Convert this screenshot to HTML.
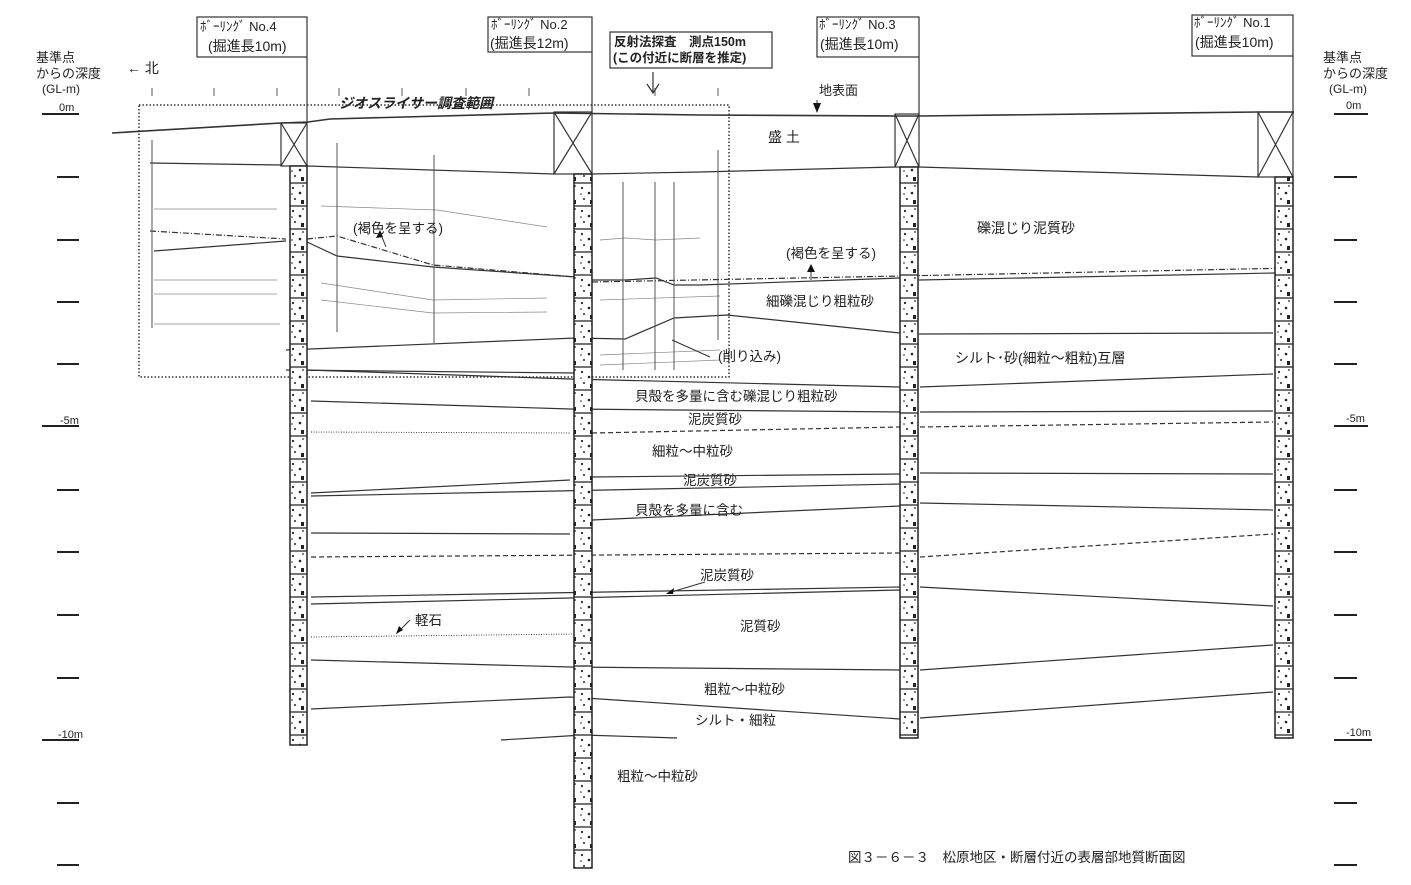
<!DOCTYPE html>
<html><head><meta charset="utf-8"><style>
html,body{margin:0;padding:0;background:#fff;}
svg{display:block;}
text{font-family:"Liberation Sans","Noto Sans CJK JP",sans-serif;fill:#222;}
</style></head><body>
<svg width="1411" height="885" viewBox="0 0 1411 885" xmlns="http://www.w3.org/2000/svg">
<defs>
<pattern id="grain" width="17" height="23" patternUnits="userSpaceOnUse">
<rect width="17" height="23" fill="#fff"/>
<circle cx="4" cy="4" r="1.1" fill="#222"/><circle cx="11" cy="9" r="1.3" fill="#222"/>
<circle cx="6" cy="15" r="1" fill="#222"/><rect x="12" y="16" width="3" height="4" fill="#222"/>
<circle cx="14" cy="2" r="0.9" fill="#222"/><circle cx="3" cy="10" r="0.8" fill="#222"/>
<line x1="0" y1="22" x2="17" y2="22" stroke="#222" stroke-width="1.2"/>
</pattern>
</defs>
<g stroke="#333" fill="none" stroke-width="1.2">
<rect x="139" y="105" width="590" height="272" stroke-dasharray="1.5,2" stroke-width="1.5"/>
<path d="M152,88v8M214,88v8M277,88v8M339,88v8M402,88v8M466,88v8M529,88v8M592,88v8M655,88v8M718,88v8" stroke-width="0.8"/>
<polyline points="112,133 281,123 308,122 330,119 554,113 700,115 895,116 920,116 1258,112 1294,112" stroke-width="1.6"/>
<path d="M307,57V123M592,52V112M919,57V114M1293,56V112"/>
<rect x="197" y="17" width="110" height="40"/><rect x="488" y="17" width="104" height="35"/>
<rect x="817" y="17" width="102" height="40"/><rect x="1192" y="15" width="101" height="41"/>
<rect x="610" y="32" width="162" height="36"/>
<path d="M653,72V93M647,84l6,9l6,-9"/>
<rect x="281" y="123" width="26" height="43"/><path d="M281,123L307,166M307,123L281,166"/>
<rect x="554" y="112" width="38" height="62"/><path d="M554,112L592,174M592,112L554,174"/>
<rect x="895" y="114" width="24" height="53"/><path d="M895,114L919,167M919,114L895,167"/>
<rect x="1258" y="112" width="35" height="65"/><path d="M1258,112L1293,177M1293,112L1258,177"/>
<polyline points="150,163 281,165"/><polyline points="307,166 554,174"/><polyline points="592,174 700,172 895,167"/><polyline points="919,167 1258,177"/>
<polyline points="154,251 286,241"/><polyline points="307,242 337,256 433,267 576,277"/><polyline points="592,280 625,280 656,278 674,285 700,285 900,278"/><polyline points="919,280 1275,273"/>
<polyline points="150,231 286,239" stroke-dasharray="6,2,1,2"/><polyline points="307,239 337,236 433,265 576,277" stroke-dasharray="6,2,1,2"/><polyline points="592,282 900,276 1293,268" stroke-dasharray="6,2,1,2"/>
<polyline points="286,350 576,338 625,339 674,318 727,315 900,333"/><polyline points="919,334 1273,333"/>
<polyline points="286,370 576,373"/>
<polyline points="307,370 570,379 900,387"/><polyline points="920,387 1273,374"/>
<polyline points="311,401 570,409 900,412"/><polyline points="920,412 1273,411"/>
<polyline points="311,432 570,433" stroke-dasharray="1,1.5" stroke-width="0.9"/>
<polyline points="592,433 900,427" stroke-dasharray="5,3"/><polyline points="920,427 1273,422" stroke-dasharray="5,3"/>
<polyline points="311,493 570,480"/><polyline points="592,477 900,474"/><polyline points="920,473 1273,474"/>
<polyline points="311,496 900,484"/><polyline points="592,520 900,506"/><polyline points="920,503 1273,510"/>
<polyline points="311,533 570,534"/>
<polyline points="311,557 900,553" stroke-dasharray="5,3"/><polyline points="920,557 1273,534" stroke-dasharray="5,3"/>
<polyline points="311,597 900,587"/><polyline points="920,587 1273,606"/>
<polyline points="311,604 570,598 900,590"/>
<polyline points="311,637 575,634" stroke-dasharray="1,1.5" stroke-width="0.9"/>
<polyline points="311,660 570,667 900,670"/><polyline points="920,670 1273,645"/>
<polyline points="311,709 570,697 900,719"/><polyline points="920,718 1273,692"/>
<polyline points="501,740 583,735 677,738"/>
<g stroke="#888" stroke-width="0.7">
<path d="M154,209H277M321,206L437,210L547,227M154,280H277M154,294H277M321,283L433,300L547,298M321,300L433,313L547,312M154,324H280"/>
<path d="M600,240L625,238L656,240L700,238M600,300L720,296M600,355L720,350M600,365L720,360"/>
<path d="M152,140V328M337,143V332M434,155V343M623,182V370M655,182V370M674,182V370M718,150V340" stroke="#555" stroke-width="1"/>
</g>
<path d="M386,247L380,232M811,280V266M668,593L705,582M397,633L410,620M672,340L710,357" stroke-width="1"/>
</g>
<g fill="#111">
<path d="M380,230l-4,8l7,-1z"/><path d="M811,264l-4,8h8z"/><path d="M666,594l8,-6l-1,6z"/><path d="M396,634l3,-8l4,4z"/>
<path d="M817,113l-4,-10h8z"/>
</g>
<path d="M817,100V105" stroke="#333"/>
<g stroke="#222" stroke-width="1.5" fill="url(#grain)">
<rect x="290" y="166" width="17" height="579"/>
<rect x="574" y="174" width="18" height="694"/>
<rect x="900" y="167" width="18" height="571"/>
<rect x="1275" y="177" width="18" height="561"/>
</g>
<g stroke="#222" stroke-width="2">
<path d="M42,114H79M57,177H79M57,240H79M57,302H79M57,364H79M42,426H79M57,490H79M57,552H79M57,615H79M57,678H79M42,740H79M57,803H79M57,865H79"/>
<path d="M1334,114H1368M1334,177H1357M1334,240H1357M1334,302H1357M1334,364H1357M1334,426H1368M1334,490H1357M1334,552H1357M1334,615H1357M1334,678H1357M1334,740H1372M1334,803H1357M1334,865H1357"/>
</g>
<g font-size="11">
<text x="59" y="111">0m</text><text x="60" y="424">-5m</text><text x="58" y="738">-10m</text>
<text x="1346" y="109">0m</text><text x="1346" y="422">-5m</text><text x="1346" y="736">-10m</text>
</g>
<g font-size="12">
<text x="36" y="62" font-size="13">基準点</text><text x="36" y="78" font-size="13">からの深度</text><text x="42" y="93">(GL-m)</text>
<text x="1323" y="62" font-size="13">基準点</text><text x="1323" y="78" font-size="13">からの深度</text><text x="1329" y="93">(GL-m)</text>
<text x="127" y="73" font-size="14">←  北</text>
<text x="200" y="31" font-size="13">ﾎﾞｰﾘﾝｸﾞ No.4</text><text x="208" y="51" font-size="14">(掘進長10m)</text>
<text x="491" y="29" font-size="13">ﾎﾞｰﾘﾝｸﾞ No.2</text><text x="490" y="48" font-size="14">(掘進長12m)</text>
<text x="819" y="29" font-size="13">ﾎﾞｰﾘﾝｸﾞ No.3</text><text x="820" y="49" font-size="14">(掘進長10m)</text>
<text x="1194" y="27" font-size="13">ﾎﾞｰﾘﾝｸﾞ No.1</text><text x="1195" y="47" font-size="14">(掘進長10m)</text>
<text x="614" y="46" font-size="12.5" font-weight="bold">反射法探査　測点150m</text>
<text x="613" y="62" font-size="12.5" font-weight="bold">(この付近に断層を推定)</text>
<text x="339" y="108" font-size="14" font-weight="bold" font-style="italic">ジオスライサー調査範囲</text>
<text x="819" y="95" font-size="13">地表面</text>
<text x="768" y="142" font-size="14">盛  土</text>
<text x="353" y="233" font-size="13.5">(褐色を呈する)</text>
<text x="786" y="258" font-size="13.5">(褐色を呈する)</text>
<text x="977" y="233" font-size="14">礫混じり泥質砂</text>
<text x="766" y="306" font-size="13.5">細礫混じり粗粒砂</text>
<text x="718" y="361" font-size="13.5">(削り込み)</text>
<text x="955" y="363" font-size="14">シルト･砂(細粒～粗粒)互層</text>
<text x="635" y="401" font-size="13.5">貝殻を多量に含む礫混じり粗粒砂</text>
<text x="688" y="424" font-size="13.5">泥炭質砂</text>
<text x="652" y="456" font-size="13.5">細粒～中粒砂</text>
<text x="683" y="485" font-size="13.5">泥炭質砂</text>
<text x="635" y="515" font-size="13.5">貝殻を多量に含む</text>
<text x="700" y="580" font-size="13.5">泥炭質砂</text>
<text x="740" y="631" font-size="13.5">泥質砂</text>
<text x="415" y="625" font-size="13.5">軽石</text>
<text x="704" y="694" font-size="13.5">粗粒～中粒砂</text>
<text x="695" y="725" font-size="13.5">シルト・細粒</text>
<text x="617" y="781" font-size="13.5">粗粒～中粒砂</text>
<text x="848" y="862" font-size="13.5">図３－６－３　松原地区・断層付近の表層部地質断面図</text>
</g>
</svg>
</body></html>
